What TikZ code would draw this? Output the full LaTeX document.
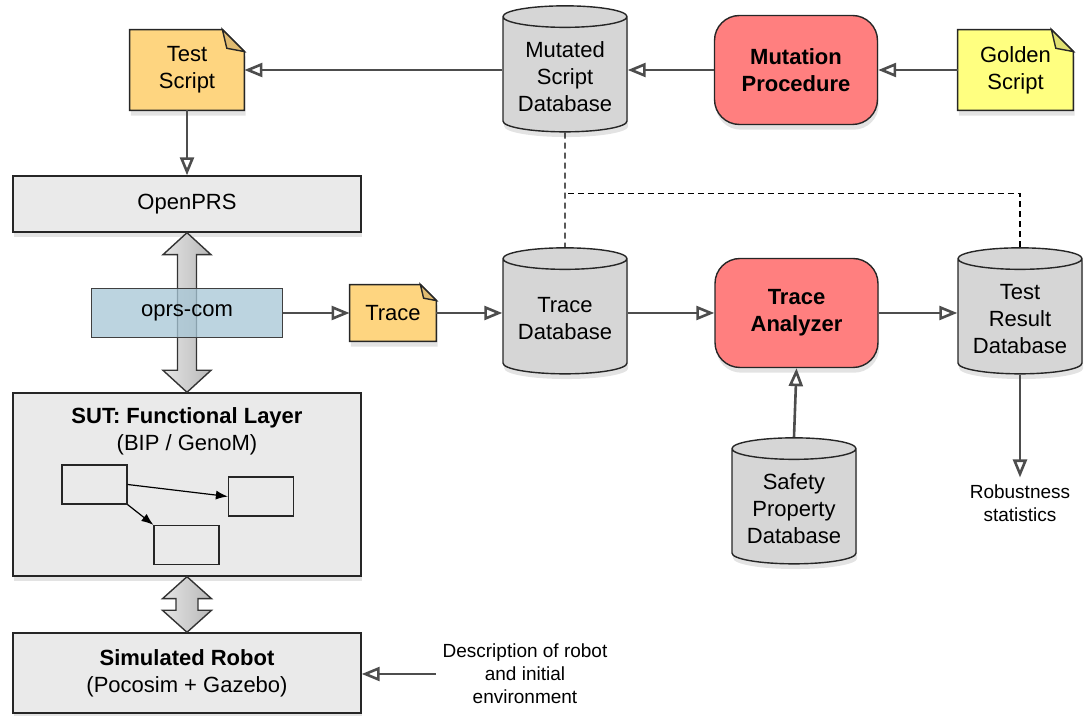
\documentclass[tikz,border=0pt]{standalone}
\usepackage{fontspec}
\setmainfont{Liberation Sans}
\usepackage{tikz}
\usetikzlibrary{arrows.meta,positioning,calc,shapes.geometric,shadows,backgrounds}
\definecolor{BoxGray}{HTML}{EAEAEA}
\definecolor{DbGray}{HTML}{D6D6D6}
\definecolor{NoteOrange}{HTML}{FED580}
\definecolor{NoteYellow}{HTML}{FFFF80}
\definecolor{ProcRed}{HTML}{FF7F7F}
\definecolor{ComBlue}{HTML}{A6C6D6}
\definecolor{WireGray}{HTML}{4D4D4D}
\tikzset{
  softshadow/.style={drop shadow={opacity=0.22, shadow xshift=0.6pt, shadow yshift=-2.6pt}},
  layerbox/.style={draw=black!85, line width=0.7pt, fill=BoxGray, softshadow,
    align=center, minimum width=174pt},
  modulebox/.style={draw=black!85, line width=0.6pt, fill=BoxGray,
    minimum width=32.5pt, minimum height=19.5pt},
  combox/.style={draw=black!75, line width=0.6pt, fill=ComBlue, fill opacity=0.75,
    text opacity=1, minimum width=95.5pt, minimum height=24.5pt},
  database/.style={cylinder, shape border rotate=90, aspect=0.2, draw=black!85,
    line width=0.7pt, fill=DbGray, softshadow, align=center,
    minimum width=62pt, minimum height=63pt},
  procedure/.style={rectangle, rounded corners=12.5pt, draw=black!85, line width=0.7pt,
    fill=ProcRed, softshadow, align=center, minimum width=81.5pt, minimum height=54.5pt,
    font=\fontsize{11}{13.5}\selectfont\bfseries},
  notebox/.style={align=center, minimum height=40pt, minimum width=57pt},
  notepaper/.style={draw=black!85, line width=0.7pt},
  comment/.style={align=center, font=\fontsize{9.5}{11.5}\selectfont},
  wire/.style={-{Triangle[open, length=9pt, width=7pt]}, line width=1.3pt, draw=WireGray},
  modwire/.style={-{Latex[length=6pt, width=4.5pt]}, line width=0.6pt},
  dashline/.style={draw=black, line width=0.6pt, dash pattern=on 3pt off 2pt},
  bigarrow/.style={draw=black!80, line width=0.7pt, left color=black!10, right color=black!28}
}
\newcommand{\dogear}[3]{%
  \begin{scope}[on background layer]
    \draw[notepaper, softshadow, fill=#2] (#1.north west) -- ([xshift=-#3]#1.north east)
      -- ([yshift=-#3]#1.north east) -- (#1.south east) -- (#1.south west) -- cycle;
    \draw[notepaper, fill=#2!88!black] ([xshift=-#3]#1.north east)
      -- ([xshift=-0.8*#3, yshift=-0.85*#3]#1.north east) -- ([yshift=-#3]#1.north east) -- cycle;
  \end{scope}}

\begin{document}
\begin{tikzpicture}[x=0.5pt, y=-0.5pt, every node/.append style={font=\fontsize{11}{13.5}\selectfont}]
  \useasboundingbox (0,0) rectangle (1084,716);
  \node[notebox] (testscript) at (187,70) {Test\\Script};
  \node[database] (mutdb) at (565,77) {Mutated\\Script\\Database};
  \node[procedure] (mutproc) at (796,70) {Mutation\\Procedure};
  \node[notebox, minimum width=57.5pt] (golden) at (1015.5,70) {Golden\\Script};
  \node[layerbox, minimum height=28pt] (openprs) at (187,204) {OpenPRS};
  \node[layerbox, minimum height=91.5pt] (sut) at (187,484.5) {};
  \node[below=4pt of sut.north, align=center] (suttitle) {\textbf{SUT: Functional Layer}\\(BIP / GenoM)};
  \node[modulebox] (modA) at (94.5,484.5) {};
  \node[modulebox] (modB) at (261,496.5) {};
  \node[modulebox] (modC) at (186.5,545) {};
  \node[layerbox, minimum height=40pt] (simrobot) at (187,673) {\textbf{Simulated Robot}\\(Pocosim + Gazebo)};
  \node[notebox, minimum width=43pt, minimum height=28pt] (trace) at (393,313) {Trace};
  \node[database] (tracedb) at (565,319) {Trace\\Database};
  \node[procedure] (analyzer) at (796.5,313) {Trace\\Analyzer};
  \node[database] (resultdb) at (1020,319) {Test\\Result\\Database};
  \node[database] (safetydb) at (794,509) {Safety\\Property\\Database};
  \node[comment] (robust) at (1020,503) {Robustness\\statistics};
  \node[comment] (desc) at (525,674) {Description of robot\\and initial\\environment};
  \dogear{testscript}{NoteOrange}{11pt}
  \dogear{golden}{NoteYellow}{11pt}
  \dogear{trace}{NoteOrange}{8pt}
  \foreach \a/\b/\s/\h in {openprs/sut/9.5/24, sut/simrobot/11/24.5} {
    \draw[bigarrow] (\a.south) -- ++(\h,22) -- ++(\s-\h,0) -- ($(\b.north)+(\s,-22)$)
      -- ++(\h-\s,0) -- (\b.north) -- ++(-\h,-22) -- ++(\h-\s,0)
      -- ($(\a.south)+(-\s,22)$) -- ++(\s-\h,0) -- cycle;
  }
  \node[combox] (oprscom) at (187,313) {oprs-com};
  \draw[modwire] (modA.east) -- (modB.west);
  \draw[modwire] (modA.south east) -- (modC.north west);
  \draw[wire] (testscript.east -| mutdb.west) -- (testscript.east);
  \draw[wire] (mutproc.west) -- (mutproc.west -| mutdb.east);
  \draw[wire] (golden.west) -- (mutproc.east);
  \draw[wire] (testscript.south) -- (openprs.north);
  \draw[wire] (oprscom.east) -- (trace.west);
  \draw[wire] (trace.east) -- (trace.east -| tracedb.west);
  \draw[wire] (analyzer.west -| tracedb.east) -- (analyzer.west);
  \draw[wire] (analyzer.east) -- (analyzer.east -| resultdb.west);
  \draw[wire] (safetydb.north) -- (analyzer.south);
  \draw[wire] (resultdb.south) -- (robust.north);
  \draw[wire] (desc.west) -- (desc.west -| simrobot.east);
  \coordinate (dashjoint) at ($(mutdb.south)!0.53!(tracedb.north)$);
  \draw[dashline] (mutdb.south) -- (tracedb.north);
  \draw[dashline] (resultdb.north) |- (dashjoint);
\end{tikzpicture}
\end{document}
